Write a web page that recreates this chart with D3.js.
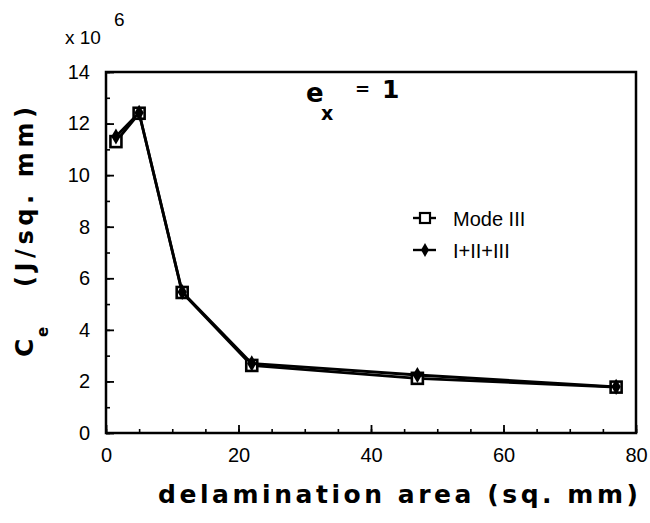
<!DOCTYPE html>
<html>
<head>
<meta charset="utf-8">
<script src="https://cdn.jsdelivr.net/npm/d3@7"></script>
<style>
  html, body { margin: 0; padding: 0; background: #fff; }
  svg { display: block; }
  .tick text { font-family: "Liberation Sans", Arial, sans-serif; font-size: 20px; fill: #000; }
</style>
</head>
<body>
<script>
// Delamination area (sq. mm) against C_e (x 10^6 J/sq. mm)
const areas = [1.5, 5, 11.5, 22, 47, 77];
const modeIII = [11.3, 12.4, 5.45, 2.62, 2.12, 1.78];
const combined = [11.5, 12.42, 5.47, 2.7, 2.25, 1.79];
const seriesNames = ["Mode III", "I+II+III"];
const xTicks = [0, 20, 40, 60, 80];
const yTicks = [0, 2, 4, 6, 8, 10, 12, 14];

const W = 650, H = 523;
const plotL = 106, plotR = 636, plotT = 72, plotB = 433;

const svg = d3.select("body").append("svg").attr("width", W).attr("height", H);

const x = d3.scaleLinear().domain([0, 80]).range([plotL, plotR]);
const y = d3.scaleLinear().domain([0, 14]).range([plotB, plotT]);

// minor ticks (inward, unlabeled)
svg.append("g").attr("transform", `translate(0,${plotB})`)
  .call(d3.axisBottom(x).tickValues(d3.range(0, 81, 5)).tickSize(-4).tickFormat(""))
  .call(g => g.select(".domain").remove())
  .call(g => g.selectAll("line").attr("stroke", "#000").attr("stroke-width", 1.6));
svg.append("g").attr("transform", `translate(${plotL},0)`)
  .call(d3.axisLeft(y).tickValues(d3.range(0, 15, 1)).tickSize(-4).tickFormat(""))
  .call(g => g.select(".domain").remove())
  .call(g => g.selectAll("line").attr("stroke", "#000").attr("stroke-width", 1.6));

// major ticks with labels
svg.append("g").attr("transform", `translate(0,${plotB})`)
  .call(d3.axisBottom(x).tickValues(xTicks).tickSize(-8).tickPadding(15).tickFormat(d3.format("d")))
  .call(g => g.select(".domain").remove())
  .call(g => g.selectAll("line").attr("stroke", "#000").attr("stroke-width", 1.8));
svg.append("g").attr("transform", `translate(${plotL},0)`)
  .call(d3.axisLeft(y).tickValues(yTicks).tickSize(-8).tickPadding(16).tickFormat(d3.format("d")))
  .call(g => g.select(".domain").remove())
  .call(g => g.selectAll("line").attr("stroke", "#000").attr("stroke-width", 1.8));

// plot frame
svg.append("rect")
  .attr("x", plotL).attr("y", plotT)
  .attr("width", plotR - plotL).attr("height", plotB - plotT)
  .attr("fill", "none").attr("stroke", "#000").attr("stroke-width", 2.5);

const line = d3.line().x((d, i) => x(areas[i])).y(d => y(d));

// Mode III: line with open squares
svg.append("path").datum(modeIII)
  .attr("d", line).attr("fill", "none").attr("stroke", "#000").attr("stroke-width", 2.8);
svg.selectAll(".sq").data(modeIII).join("rect")
  .attr("x", (d, i) => x(areas[i]) - 5.5).attr("y", d => y(d) - 5.5)
  .attr("width", 11).attr("height", 11)
  .attr("fill", "#fff").attr("stroke", "#000").attr("stroke-width", 2.6);

// I+II+III: line with filled diamonds
svg.append("path").datum(combined)
  .attr("d", line).attr("fill", "none").attr("stroke", "#000").attr("stroke-width", 2.8);
svg.selectAll(".dm").data(combined).join("path")
  .attr("d", d3.symbol(d3.symbolDiamond, 75))
  .attr("transform", (d, i) => `translate(${x(areas[i])},${y(d)})`)
  .attr("fill", "#000");

// legend
const legFont = '"Liberation Sans Narrow", "Liberation Sans", Arial, sans-serif';
const leg = svg.append("g");
[0, 1].forEach(k => {
  const ly = 218 + k * 32;
  leg.append("line").attr("x1", 413).attr("x2", 436).attr("y1", ly).attr("y2", ly)
    .attr("stroke", "#000").attr("stroke-width", 2.4);
  if (k === 0) {
    leg.append("rect").attr("x", 420).attr("y", ly - 5).attr("width", 10).attr("height", 10)
      .attr("fill", "#fff").attr("stroke", "#000").attr("stroke-width", 2.2);
  } else {
    leg.append("path").attr("d", d3.symbol(d3.symbolDiamond, 55)())
      .attr("transform", `translate(425,${ly})`).attr("fill", "#000");
  }
  leg.append("text").attr("x", 453).attr("y", ly + 8)
    .attr("font-family", legFont).attr("font-size", 20).text(seriesNames[k]);
});

// e_x = 1 annotation
const boldFont = '"DejaVu Sans", Arial, sans-serif';
svg.append("text").attr("x", 306).attr("y", 102).attr("font-family", boldFont)
  .attr("font-weight", "bold").attr("font-size", 26).text("e");
svg.append("text").attr("x", 321).attr("y", 120).attr("font-family", boldFont)
  .attr("font-weight", "bold").attr("font-size", 19).text("x");
svg.append("text").attr("x", 355).attr("y", 95).attr("font-family", boldFont)
  .attr("font-weight", "bold").attr("font-size", 18).text("=");
svg.append("text").attr("x", 382).attr("y", 98).attr("font-family", boldFont)
  .attr("font-weight", "bold").attr("font-size", 25).text("1");

// scale factor above the y axis
const plainFont = '"Liberation Sans", Arial, sans-serif';
svg.append("text").attr("x", 65).attr("y", 44)
  .attr("font-family", plainFont).attr("font-size", 19).text("x 10");
svg.append("text").attr("x", 114).attr("y", 26)
  .attr("font-family", plainFont).attr("font-size", 19).text("6");

// x axis title
svg.append("text").attr("x", 158).attr("y", 503)
  .attr("font-family", boldFont).attr("font-weight", "bold").attr("font-size", 25)
  .attr("textLength", 480).attr("lengthAdjust", "spacing")
  .text("delamination area (sq. mm)");

// y axis title
const yt = svg.append("g").attr("transform", "translate(33,357) rotate(-90)");
yt.append("text").attr("x", 0).attr("y", 0)
  .attr("font-family", boldFont).attr("font-weight", "bold").attr("font-size", 25).text("C");
yt.append("text").attr("x", 20).attr("y", 15)
  .attr("font-family", boldFont).attr("font-weight", "bold").attr("font-size", 15).text("e");
yt.append("text").attr("x", 70).attr("y", 0)
  .attr("font-family", boldFont).attr("font-weight", "bold").attr("font-size", 24)
  .attr("textLength", 180).attr("lengthAdjust", "spacing")
  .text("(J/sq. mm)");
</script>
</body>
</html>
